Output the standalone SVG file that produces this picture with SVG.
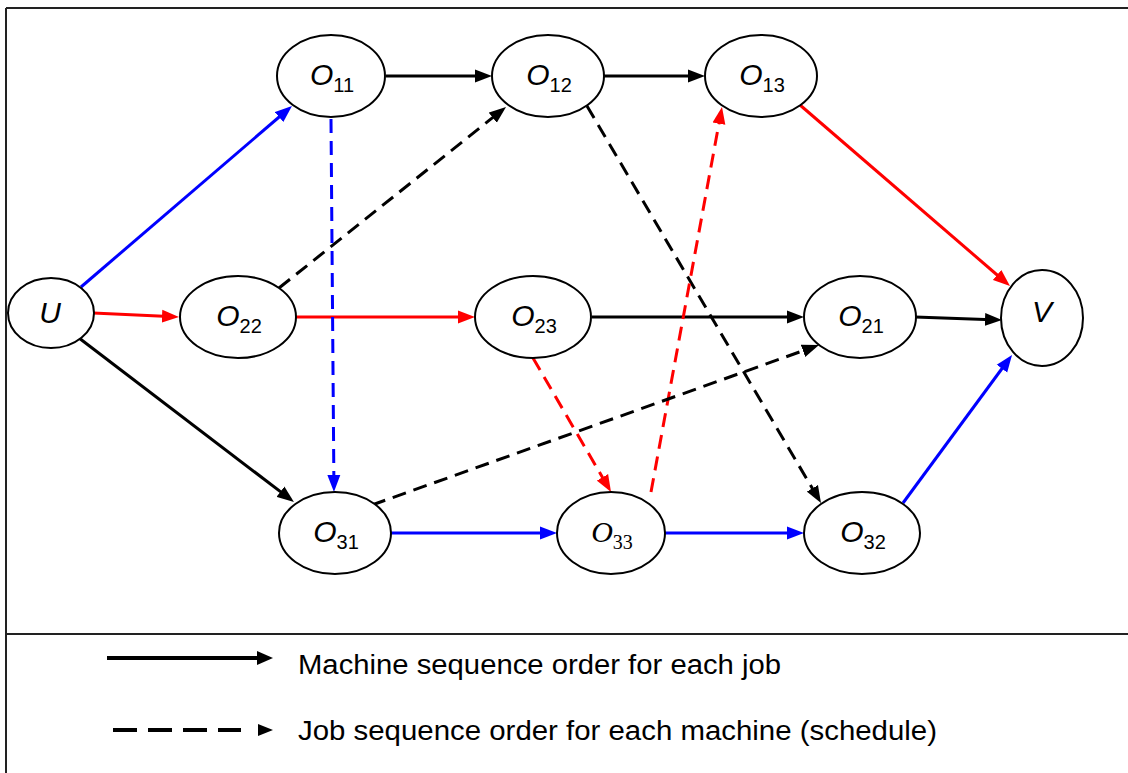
<svg xmlns="http://www.w3.org/2000/svg" width="1128" height="773" viewBox="0 0 1128 773">
<style>
.node ellipse{fill:#fff;stroke:#000;stroke-width:2}
.lbl{font-family:"Liberation Sans",Arial,sans-serif;font-size:30px;fill:#000}
.lbl .o{font-style:italic}
.lbl .s{font-size:20px}
.ser{font-family:"Liberation Serif","Times New Roman",serif}
.e{fill:none;stroke-width:3}
.k{stroke:#000}.b{stroke:#0000ff}.r{stroke:#ff0000}
.d{stroke-dasharray:14 8}
.leg{font-family:"Liberation Sans",Arial,sans-serif;font-size:27px;fill:#000}
.frame{stroke:#222;stroke-width:2;fill:none}
</style>
<defs>
<marker id="ak" markerUnits="userSpaceOnUse" markerWidth="17" markerHeight="14" refX="7" refY="7" orient="auto"><path d="M0,0.5 L17,7 L0,13.5 z" fill="#000"/></marker>
<marker id="ab" markerUnits="userSpaceOnUse" markerWidth="17" markerHeight="14" refX="7" refY="7" orient="auto"><path d="M0,0.5 L17,7 L0,13.5 z" fill="#0000ff"/></marker>
<marker id="ar" markerUnits="userSpaceOnUse" markerWidth="17" markerHeight="14" refX="7" refY="7" orient="auto"><path d="M0,0.5 L17,7 L0,13.5 z" fill="#ff0000"/></marker>
</defs>
<g id="frame">
<line class="frame" x1="6" y1="8" x2="1128" y2="8"/>
<line class="frame" x1="6" y1="8" x2="6" y2="773"/>
<line class="frame" x1="6" y1="634" x2="1128" y2="634"/>
</g>
<g id="connectors">
<line class="e b" x1="81" y1="287" x2="284.4" y2="112.5" marker-end="url(#ab)"/>
<line class="e r" x1="93" y1="313" x2="169" y2="316.5" marker-end="url(#ar)"/>
<line class="e k" x1="79" y1="338" x2="286" y2="495.9" marker-end="url(#ak)"/>
<line class="e k" x1="386" y1="76" x2="482" y2="76" marker-end="url(#ak)"/>
<line class="e k" x1="604" y1="76" x2="695" y2="76" marker-end="url(#ak)"/>
<line class="e r" x1="800" y1="105" x2="1002.4" y2="279.5" marker-end="url(#ar)"/>
<line class="e r" x1="296" y1="317" x2="465" y2="317" marker-end="url(#ar)"/>
<line class="e k" x1="592" y1="317" x2="794" y2="317" marker-end="url(#ak)"/>
<line class="e k" x1="915" y1="317" x2="992" y2="319.7" marker-end="url(#ak)"/>
<line class="e k d" x1="279" y1="288" x2="498.2" y2="113.2" marker-end="url(#ak)"/>
<line class="e b d" x1="331" y1="119" x2="333.9" y2="482" marker-end="url(#ab)"/>
<line class="e k d" x1="587" y1="106" x2="815.9" y2="494.4" marker-end="url(#ak)"/>
<line class="e r d" x1="533" y1="358" x2="606" y2="483.4" marker-end="url(#ar)"/>
<line class="e r d" x1="651" y1="492" x2="720.2" y2="116.8" marker-end="url(#ar)"/>
<line class="e k d" x1="372" y1="505" x2="809.6" y2="348.4" marker-end="url(#ak)"/>
<line class="e b" x1="391" y1="533" x2="547" y2="533" marker-end="url(#ab)"/>
<line class="e b" x1="665" y1="533" x2="794" y2="533" marker-end="url(#ab)"/>
<line class="e b" x1="903" y1="503" x2="1006.1" y2="363" marker-end="url(#ab)"/>
</g>
<g id="U" class="node"><ellipse cx="51" cy="313" rx="43" ry="35"/><text class="lbl" x="50" y="323" text-anchor="middle"><tspan class="o">U</tspan></text></g>
<g id="O11" class="node"><ellipse cx="331" cy="76" rx="54" ry="41"/><text class="lbl" x="332" y="85" text-anchor="middle"><tspan class="o">O</tspan><tspan class="s" dy="7">11</tspan></text></g>
<g id="O12" class="node"><ellipse cx="548" cy="76" rx="56" ry="41"/><text class="lbl" x="549" y="85" text-anchor="middle"><tspan class="o">O</tspan><tspan class="s" dy="7">12</tspan></text></g>
<g id="O13" class="node"><ellipse cx="761" cy="76" rx="56" ry="41"/><text class="lbl" x="762" y="85" text-anchor="middle"><tspan class="o">O</tspan><tspan class="s" dy="7">13</tspan></text></g>
<g id="O22" class="node"><ellipse cx="238" cy="317" rx="58" ry="41"/><text class="lbl" x="239" y="326" text-anchor="middle"><tspan class="o">O</tspan><tspan class="s" dy="7">22</tspan></text></g>
<g id="O23" class="node"><ellipse cx="533" cy="317" rx="58" ry="41"/><text class="lbl" x="534" y="326" text-anchor="middle"><tspan class="o">O</tspan><tspan class="s" dy="7">23</tspan></text></g>
<g id="O21" class="node"><ellipse cx="860" cy="317" rx="56" ry="41"/><text class="lbl" x="861" y="326" text-anchor="middle"><tspan class="o">O</tspan><tspan class="s" dy="7">21</tspan></text></g>
<g id="V" class="node"><ellipse cx="1042" cy="318" rx="41" ry="48"/><text class="lbl" x="1042" y="322" text-anchor="middle"><tspan class="o">V</tspan></text></g>
<g id="O31" class="node"><ellipse cx="335" cy="533" rx="56" ry="41"/><text class="lbl" x="336" y="542" text-anchor="middle"><tspan class="o">O</tspan><tspan class="s" dy="7">31</tspan></text></g>
<g id="O33" class="node"><ellipse cx="611" cy="533" rx="54" ry="41"/><text class="lbl ser" x="612" y="542" text-anchor="middle"><tspan class="o">O</tspan><tspan class="s" dy="7">33</tspan></text></g>
<g id="O32" class="node"><ellipse cx="862" cy="533" rx="58" ry="41"/><text class="lbl" x="863" y="542" text-anchor="middle"><tspan class="o">O</tspan><tspan class="s" dy="7">32</tspan></text></g>
<g id="legend">
<line x1="107" y1="658" x2="259" y2="658" stroke="#000" stroke-width="4"/>
<polygon points="257,651 273,658 257,665" fill="#000"/>
<text class="leg" x="298" y="674" textLength="483" lengthAdjust="spacingAndGlyphs">Machine sequence order for each job</text>
<line x1="113" y1="730" x2="241" y2="730" stroke="#000" stroke-width="4" stroke-dasharray="24 11"/>
<polygon points="258,724 273,730 258,736" fill="#000"/>
<text class="leg" x="298" y="740" textLength="639" lengthAdjust="spacingAndGlyphs">Job sequence order for each machine (schedule)</text>
</g>
</svg>
